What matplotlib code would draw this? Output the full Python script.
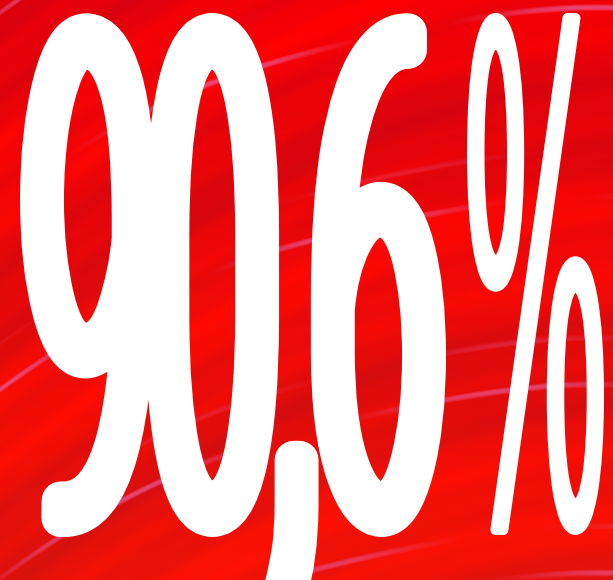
import matplotlib; matplotlib.use("Agg")
import matplotlib.pyplot as plt
import numpy as np
from matplotlib import patheffects
from matplotlib.font_manager import FontProperties
from matplotlib.textpath import TextPath
from matplotlib.transforms import Affine2D

W, H, DPI = 613, 580, 100

# the headline figure: one share, written with a decimal comma
value = 90.6
unit = "%"
number_text = f"{value:.1f}".replace(".", ",")

# pixel boxes (y down) that the glyph ink should fill, and extra stroke width
num_box, num_grow = (20, 13, 446, 537), 38
pct_box, pct_grow = (467, 13, 604, 535), 10


class Stretch(patheffects.AbstractPathEffect):
    """Draw the text path stretched vertically and thickened by a stroke."""
    def __init__(self, sy, grow=0.0):
        super().__init__()
        self.sy, self.grow = sy, grow

    def draw_path(self, renderer, gc, tpath, affine, rgbFace=None):
        m = affine.get_matrix().copy()
        m[1, :2] *= self.sy
        gc0 = renderer.new_gc()
        gc0.copy_properties(gc)
        if self.grow:
            gc0.set_linewidth(self.grow * 72 / DPI)
            gc0.set_foreground(rgbFace)
            gc0.set_joinstyle("round")
        renderer.draw_path(gc0, tpath, Affine2D(m), rgbFace)
        gc0.restore()


def fit_text(ax, s, box, grow, prop, ref):
    x0, y0, x1, y1 = box
    ink = TextPath((0, 0), s, size=1, prop=prop).get_extents()
    dig = TextPath((0, 0), ref, size=1, prop=prop).get_extents()
    fx = (x1 - x0 - grow) / ink.width            # pixels per em, across
    fy = (y1 - y0 - grow) / dig.height           # pixels per em, up
    xa = x0 + grow / 2 - fx * ink.x0
    base = y1 - grow / 2 + fy * dig.y0
    p = prop.copy(); p.set_size(fx * 72 / DPI)
    ax.text(xa, base, s, fontproperties=p, color="white", ha="left",
            va="baseline", path_effects=[Stretch(fy / fx, grow)], zorder=3)


# brushed red background
yy, xx = np.mgrid[0:H, 0:W].astype(float)
u = yy + 0.67 * xx - 0.00059 * xx ** 2
shade = 0.40 + 0.22 * np.sin(u / 41 + 0.4) + 0.14 * np.sin(u / 13 + xx / 97) + 0.06 * np.sin(u / 4.7 + xx / 31)
shade = np.clip(shade, 0, 1)[..., None]
bright = np.array([1.0, 0.0, 0.01]); dark = np.array([0.80, 0.0, 0.07]); pink = np.array([0.92, 0.34, 0.56])
img = bright * (1 - shade) + dark * shade
streak = np.clip((np.sin(u / 7.5 + 0.6 * np.sin(xx / 83)) - 0.88) / 0.12, 0, 1)
streak *= np.clip(np.sin(u / 29 + 1.1) * 1.6 - 0.4, 0, 1) * np.clip(0.5 + 0.6 * np.sin(xx / 61 + u / 47), 0, 1)
img = img + (pink - img) * (0.8 * streak[..., None])
img[..., 1] += 0.07 * (yy / H) * (1 - streak)
img = np.clip(img, 0, 1)

fig = plt.figure(figsize=(W / DPI, H / DPI), dpi=DPI)
ax = fig.add_axes([0, 0, 1, 1])
ax.imshow(img, extent=(0, W, H, 0), aspect="auto", interpolation="bilinear")
ax.set_xlim(0, W); ax.set_ylim(H, 0); ax.axis("off")

num_font = FontProperties(family=["Roboto", "DejaVu Sans"], weight=100)
pct_font = FontProperties(family=["DejaVu Sans"], weight=200)
fit_text(ax, number_text, num_box, num_grow, num_font, "0")
fit_text(ax, unit, pct_box, pct_grow, pct_font, unit)

fig.savefig("out.png", dpi=DPI)
